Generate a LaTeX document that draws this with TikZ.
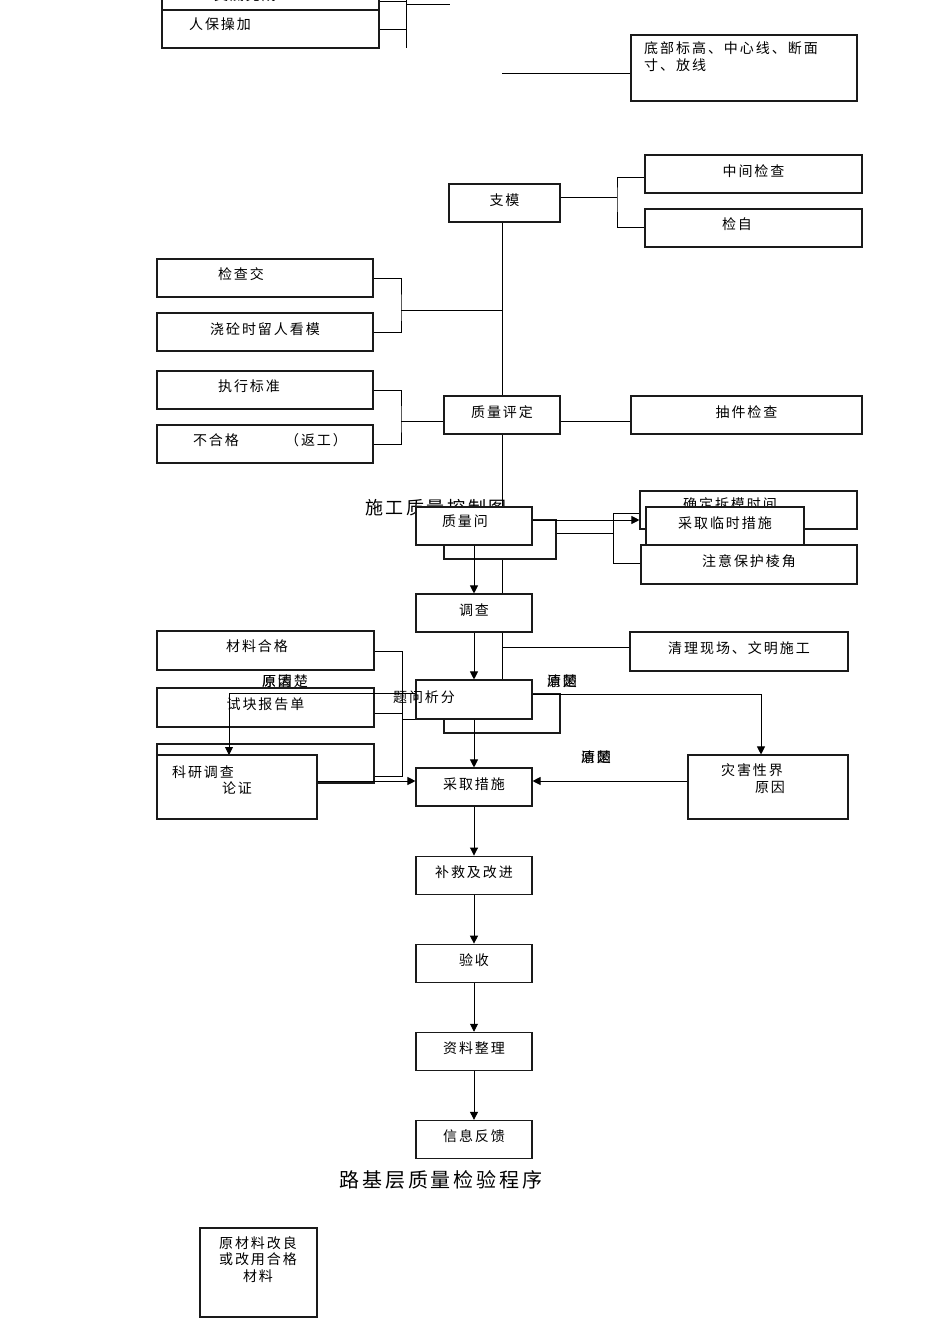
\documentclass[tikz,border=0pt]{standalone}
\usepackage{fontspec}
\setmainfont{Noto Sans CJK SC}[LetterSpace=14]
\usetikzlibrary{arrows.meta, positioning, calc}
\definecolor{linedark}{HTML}{1A1A1A}
\tikzset{
  procbox/.style={draw=linedark, line width=1.1pt, fill=white, rectangle, inner sep=0pt,
                  minimum width=116pt, minimum height=38pt,
                  font=\fontsize{14}{16}\selectfont, text height=12pt, text depth=8pt},
  wire/.style={draw=black, line width=0.9pt},
  flowarr/.style={wire, -{Triangle[length=8pt,width=8pt]}},
  txt/.style={font=\fontsize{14}{16}\selectfont, inner sep=0pt},
  heading/.style={font=\fontsize{20}{24}\selectfont, inner sep=0pt}
}
\newcommand{\olap}[2]{\makebox[0pt][l]{#1}#2}

\begin{document}
\begin{tikzpicture}[x=1pt,y=-1pt]
  \fill[white] (0,0) rectangle (950,1344);
  \useasboundingbox (0,0) rectangle (950,1344);

  % top, cut by the page edge
  \node[procbox, minimum width=217pt] (jd) at (270.5,-9) {};
  \node[txt] at (245,-5) {交底完成};
  \node[procbox, minimum width=217pt] (rb) at (270.5,29) {};
  \node[txt] at (220,24) {人保操加};
  \coordinate (rj) at (406,29);
  \coordinate (rt) at (406,0);
  \coordinate (rd) at (406,48);
  \coordinate (re) at (450,4);
  \draw[wire] (rb.east) -- (rj);
  \draw[wire] (rt) -- (rd);
  \draw[wire] (jd.east |- 0,1) -- (rt |- 0,1);
  \draw[wire] (rt |- re) -- (re);

  \node[procbox, minimum width=226pt, minimum height=66pt] (db) at (744,68) {};
  \node[txt, anchor=north west, align=left, font=\fontsize{14}{17}\selectfont] at (644,41)
    {底部标高、中心线、断面\\寸、放线};
  \coordinate (dl) at (502,73);
  \draw[wire] (dl) -- (dl -| db.west);

  % main trunk
  \coordinate (tt0) at (502,222);
  \coordinate (tr) at (502,680);
  \draw[wire] (tt0) -- (tr);

  \node[procbox, minimum width=111pt] (zm) at (504.5,203) {支模};
  \node[procbox, minimum width=217pt] (zj) at (753.5,174) {中间检查};
  \node[procbox, minimum width=217pt] (zz) at (753.5,228) {};
  \node[txt] at (737,224) {检自};
  \coordinate (zb) at (617,197);
  \draw[wire] (zm.east |- zb) -- (zb);
  \draw[wire] (zj.west |- 0,177) -| (zb) |- (zz.west |- 0,227);

  \node[procbox, minimum width=216pt] (jc) at (265,278) {};
  \node[txt] at (241,274) {检查交};
  \node[procbox, minimum width=216pt] (jz) at (265,332) {浇砼时留人看模};
  \coordinate (jb) at (401,310);
  \draw[wire] (jc.east) -| (jb) |- (jz.east);
  \draw[wire] (jb) -- (jb -| tr);

  \node[procbox, minimum width=216pt] (zx) at (265,390) {};
  \node[txt] at (249,386) {执行标准};
  \node[procbox, minimum width=216pt] (bh) at (265,444) {};
  \node[txt] at (216,440) {不合格};
  \node[txt] at (316,440) {（返工）};
  \node[procbox] (pd) at (502,415) {质量评定};
  \node[procbox, minimum width=231pt] (cj) at (746.5,415) {抽件检查};
  \coordinate (pb) at (401,421);
  \draw[wire] (zx.east) -| (pb) |- (bh.east);
  \draw[wire] (pb) -- (pb -| pd.west);
  \draw[wire] (pd.east |- pb) -- (pb -| cj.west);

  % 质量问题
  \node[heading, font=\fontsize{18}{22}\selectfont] (tt) at (436,508) {施工质量控制图};
  \node[procbox, minimum width=112pt, minimum height=39pt] (bg1) at (500,539.5) {};
  \node[procbox, minimum width=217pt] (cm) at (748.5,510) {};
  \node[txt] at (730,504) {确定拆模时间};
  \node[procbox] (zw) at (474,526) {};
  \node[txt] at (465,521) {质量问};
  \node[procbox, minimum width=158pt] (lc) at (725,526) {采取临时措施};
  \node[procbox, minimum width=216pt, minimum height=39pt] (zy) at (749,564.5) {注意保护棱角};
  \coordinate (qb) at (613,533);
  \draw[wire] (bg1.east |- qb) -- (qb);
  \draw[wire] (qb |- 0,513) -- (qb |- 0,563);
  \draw[wire] (qb |- 0,513) -- (cm.west |- 0,513);
  \draw[wire] (qb |- 0,563) -- (zy.west |- 0,563);
  \draw[flowarr] (zw.east |- 0,520) -- (cm.west |- 0,520);

  \node[procbox] (dc) at (474,613) {调查};
  \draw[flowarr] (zw.south) -- (dc.north);
  \node[procbox, minimum width=218pt, minimum height=39pt] (ql) at (739,651.5) {清理现场、文明施工};
  \draw[wire] (502,647) -- (ql.west |- 0,647);

  % 问题分析
  \node[procbox, minimum width=217pt, minimum height=39pt] (cl) at (265.5,650.5) {};
  \node[txt] at (257,646) {材料合格};
  \node[txt] at (285,681) {\olap{原因}{原清楚}};
  \node[procbox, minimum width=217pt, minimum height=39pt] (sk) at (265.5,707.5) {试块报告单};
  \node[procbox, minimum width=217pt, minimum height=39pt] (jl) at (265.5,763.5) {};
  \node[txt] at (265,761) {检验记录};
  \coordinate (kb) at (402,651);
  \draw[wire] (cl.east |- kb) -- (kb) -- (kb |- 0,776) -- (jl.east |- 0,776);
  \draw[wire] (sk.east |- 0,713) -- (kb |- 0,713);
  \draw[wire] (kb |- 0,719) -- (416,719);

  \node[procbox, minimum width=116pt, minimum height=39pt] (bg2) at (502,713.5) {};
  \node[txt] at (502,711) {整理};
  \node[procbox, minimum height=39pt] (fx) at (474,699.5) {};
  \node[txt] at (424,697) {题问析分};
  \draw[flowarr] (dc.south) -- (fx.north);
  \coordinate (fl) at (229,693);
  \draw[flowarr] (fx.west |- fl) -- (fl) -- (fl |- 0,755);
  \coordinate (fr) at (761,694);
  \node[txt] at (562,681) {\olap{原因}{清楚}};
  \node[txt] at (596,757) {\olap{原因}{清楚}};

  \node[procbox, minimum width=160pt, minimum height=64pt] (ky) at (237,787) {};
  \node[txt] at (203,772) {科研调查};
  \node[txt] at (237,788) {论证};
  \node[procbox, minimum width=160pt, minimum height=64pt] (zh) at (768,787) {};
  \node[txt] at (752,770) {灾害性界};
  \node[txt] at (770,787) {原因};
  \draw[flowarr] (fx.east |- fr) -- (fr) -- (fr |- zh.north);

  \node[procbox] (cs) at (474,787) {采取措施};
  \draw[flowarr] (fx.south) -- (cs.north);
  \draw[flowarr] (ky.east |- 0,781) -- (cs.west |- 0,781);
  \draw[flowarr] (zh.west |- 0,781) -- (cs.east |- 0,781);

  % lower chain
  \node[procbox, below=49pt of cs] (bj) {补救及改进};
  \node[procbox, below=49pt of bj] (ys) {验收};
  \node[procbox, below=49pt of ys] (zl) {资料整理};
  \node[procbox, below=49pt of zl] (xx) {信息反馈};
  \draw[flowarr] (cs) -- (bj);
  \draw[flowarr] (bj) -- (ys);
  \draw[flowarr] (ys) -- (zl);
  \draw[flowarr] (zl) -- (xx);

  \node[heading] (t2) at (441,1180) {路基层质量检验程序};

  \node[procbox, minimum width=117pt, minimum height=89pt] (yl) at (258.5,1272.5) {};
  \node[txt, anchor=north, align=center, font=\fontsize{14}{16.5}\selectfont] at (258,1236)
    {原材料改良\\或改用合格\\材料};
\end{tikzpicture}
\end{document}
